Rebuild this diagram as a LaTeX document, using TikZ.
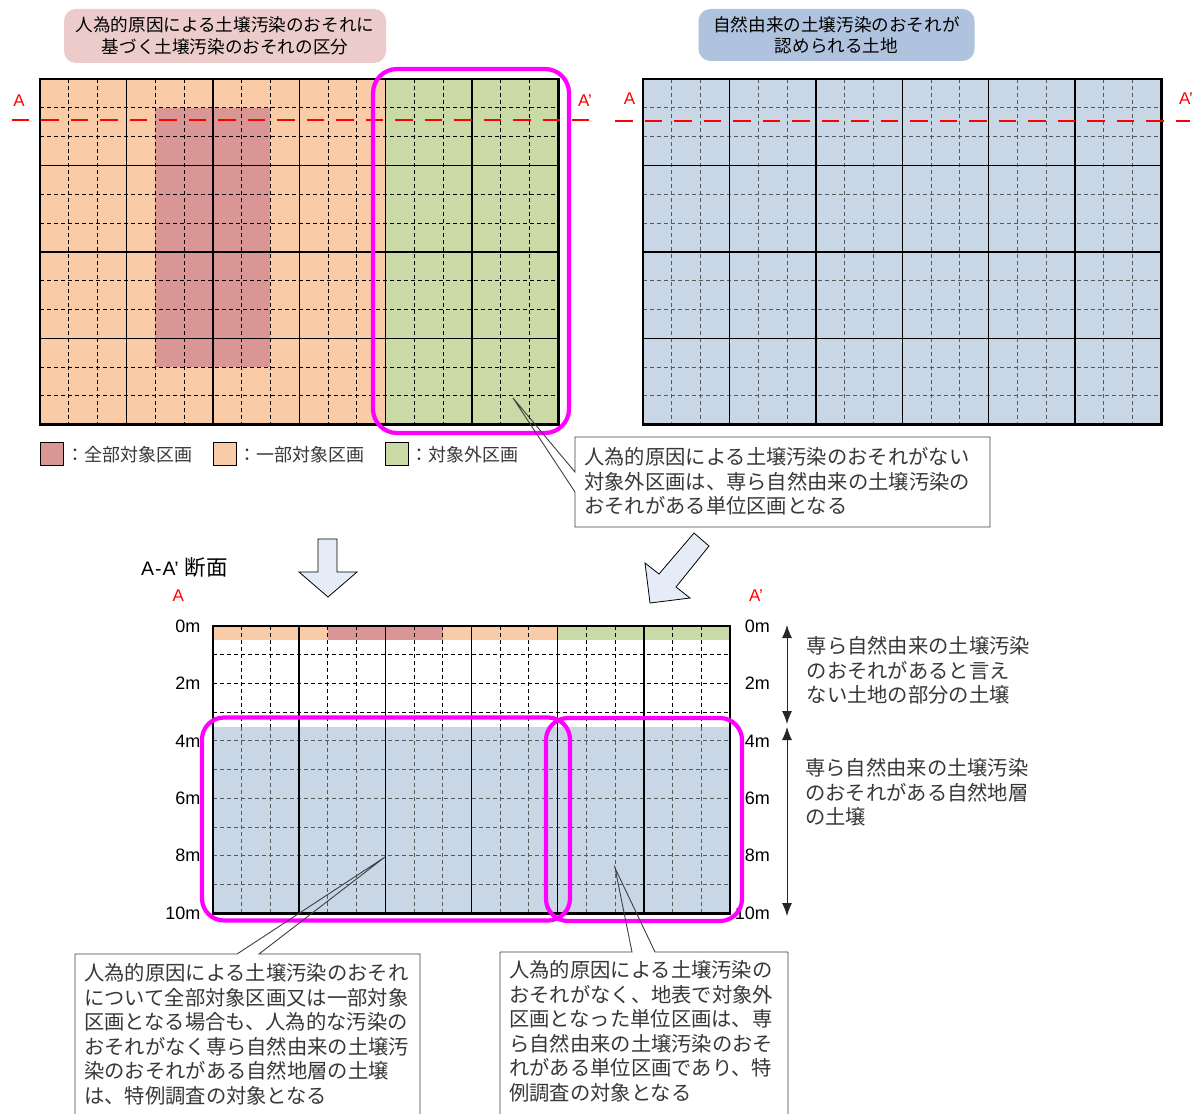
\documentclass[tikz,border=0pt]{standalone}
\usepackage{fontspec}
\setmainfont{Noto Sans CJK JP}
\newfontfamily\jp{Noto Sans CJK JP}
\newfontfamily\lat{Liberation Sans}
\usetikzlibrary{arrows.meta}
\definecolor{orangeF}{HTML}{F9CBA6}
\definecolor{redF}{HTML}{D99694}
\definecolor{greenF}{HTML}{C9DAA6}
\definecolor{blueF}{HTML}{C8D6E6}
\definecolor{titleLF}{HTML}{ECCBCB}
\definecolor{titleRF}{HTML}{B0C3DE}
\definecolor{arrowF}{HTML}{E6ECF7}
\definecolor{magC}{HTML}{FF00FF}
\definecolor{redC}{HTML}{FF0000}
\begin{document}
\begin{tikzpicture}[x=1pt,y=-1pt,
  dgrid/.style={line width=0.9pt, dash pattern=on 4pt off 3pt},
  dgridb/.style={line width=0.9pt, dash pattern=on 4pt off 3pt, draw=black!65},
  mgrid/.style={line width=1.4pt},
  gborder/.style={line width=2.6pt},
  magbox/.style={draw=magC, line width=4.2pt, rounded corners=24pt},
  redcut/.style={draw=redC, line width=2.8pt, dash pattern=on 17.5pt off 12pt},
  callframe/.style={draw=black!75, line width=0.9pt},
  calltext/.style={font=\jp\fontsize{20.3}{24.5}\selectfont, text=black!78, inner sep=0pt, align=left, anchor=north west},
  titlebox/.style={rounded corners=12pt, font=\jp\fontsize{17.6}{21.5}\selectfont, align=center, inner sep=0pt},
  legsq/.style={draw=black, line width=0.8pt, minimum width=23pt, minimum height=23pt, inner sep=0pt},
  legtext/.style={font=\jp\fontsize{18}{20}\selectfont, text=black!78, anchor=west, inner sep=0pt},
  deplab/.style={font=\lat\fontsize{18}{20}\selectfont, inner sep=0pt},
  redlab/.style={font=\lat\fontsize{17}{20}\selectfont, text=redC, inner sep=0pt},
  blockarrow/.style={fill=arrowF, draw=black, line width=0.8pt, line join=miter},
  dimarrow/.style={draw=black!85, line width=1pt, {Latex[length=13pt,width=10pt]}-{Latex[length=13pt,width=10pt]}}
]
\useasboundingbox (0,0) rectangle (1198,1113);
\fill[white] (0,0) rectangle (1198,1113);

% ---------- titles ----------
\node[titlebox, fill=titleLF, minimum width=322pt, minimum height=54pt] (titleL) at (225,36)
  {人為的原因による土壌汚染のおそれに\\基づく土壌汚染のおそれの区分};
\node[titlebox, fill=titleRF, minimum width=276pt, minimum height=52pt] (titleR) at (836.5,35)
  {自然由来の土壌汚染のおそれが\\認められる土地};

% ---------- top-left grid ----------
\fill[orangeF] (40,79) rectangle (558.4,424.6);
\fill[redF] (40+4*28.8,79+28.8) rectangle (40+8*28.8,79+10*28.8);
\fill[greenF] (40+12*28.8,79) rectangle (558.4,424.6);
\foreach \i in {1,...,17} {\draw[dgrid] (40+\i*28.8,79) -- ++(0,345.6);}
\foreach \j in {1,...,11} {\draw[dgrid] (40,79+\j*28.8) -- ++(518.4,0);}
\foreach \i in {3,6,...,15} {\draw[mgrid] (40+\i*28.8,79) -- ++(0,345.6);}
\foreach \j in {3,6,9} {\draw[mgrid] (40,79+\j*28.8) -- ++(518.4,0);}
\draw[gborder] (40,79) rectangle (558.4,424.6);
\draw[redcut] (11.5,120) -- (589,120);
\draw[magbox] (373,69) rectangle (569,433);
\node[redlab] (aL1) at (19,101) {A};
\node[redlab] (aL2) at (585,101) {A’};

% ---------- top-right grid ----------
\fill[blueF] (643,79) rectangle (1161.4,424.6);
\foreach \i in {1,...,17} {\draw[dgridb] (643+\i*28.8,79) -- ++(0,345.6);}
\foreach \j in {1,...,11} {\draw[dgridb] (643,79+\j*28.8) -- ++(518.4,0);}
\foreach \i in {3,6,...,15} {\draw[mgrid] (643+\i*28.8,79) -- ++(0,345.6);}
\foreach \j in {3,6,9} {\draw[mgrid] (643,79+\j*28.8) -- ++(518.4,0);}
\draw[gborder] (643,79) rectangle (1161.4,424.6);
\draw[redcut] (615,121) -- (1190,121);
\node[redlab] (aR1) at (629.5,99) {A};
\node[redlab] (aR2) at (1186,99) {A’};

% ---------- legend ----------
\node[legsq, fill=redF, anchor=north west] (lg1) at (40,442) {};
\node[legtext] (lt1) at (66,454.5) {：全部対象区画};
\node[legsq, fill=orangeF, anchor=north west] (lg2) at (213,442) {};
\node[legtext] (lt2) at (238,454.5) {：一部対象区画};
\node[legsq, fill=greenF, anchor=north west] (lg3) at (385,442) {};
\node[legtext] (lt3) at (410,454.5) {：対象外区画};

% ---------- callout 1 ----------
\coordinate (tip1) at (513,398);
\fill[white] (575,437) rectangle (990,527);
\draw[callframe] (tip1) -- (575,472) -- (575,437) -- (990,437) -- (990,527) -- (575,527) -- (575,492) -- cycle;
\node[calltext] (ct1) at (584,447.5)
  {人為的原因による土壌汚染のおそれがない\\対象外区画は、専ら自然由来の土壌汚染の\\おそれがある単位区画となる};

% ---------- block arrows ----------
\draw[blockarrow] (318,539) -- (337,539) -- (337,572) -- (357,572) -- (328,597) -- (299,572) -- (318,572) -- cycle;
\draw[blockarrow] (694,533) -- (709,546) -- (676,587) -- (690,598) -- (650,603) -- (645,563) -- (659,574) -- cycle;

% ---------- cross section ----------
\node[inner sep=0pt, anchor=west] (sec) at (141,567)
  {{\lat\fontsize{19.5}{22}\selectfont A\kern1pt{-}\kern1ptA’}\hspace{6pt}{\jp\fontsize{21.5}{24}\selectfont 断面}};
\node[redlab] (aS1) at (178.3,596) {A};
\node[redlab] (aS2) at (756,596) {A’};

\fill[orangeF] (213,626) rectangle (213+4*28.72,640.36);
\fill[redF] (213+4*28.72,626) rectangle (213+8*28.72,640.36);
\fill[orangeF] (213+8*28.72,626) rectangle (213+12*28.72,640.36);
\fill[greenF] (213+12*28.72,626) rectangle (730,640.36);
\fill[blueF] (213,726.52) rectangle (730,913.2);
\foreach \i in {1,...,17} {
  \draw[dgrid] (213+\i*28.72,626) -- (213+\i*28.72,726.52);
  \draw[dgridb] (213+\i*28.72,726.52) -- (213+\i*28.72,913.2);
}
\foreach \j in {1,2,3} {\draw[dgrid] (213,626+\j*28.72) -- ++(517,0);}
\foreach \j in {4,...,9} {\draw[dgridb] (213,626+\j*28.72) -- ++(517,0);}
\foreach \i in {3,6,...,15} {\draw[mgrid] (213+\i*28.72,626) -- (213+\i*28.72,913.2);}
\draw[gborder] (213,626) rectangle (730,913.2);

\foreach \m/\k in {0/0,2/2,4/4,6/6,8/8,10/10} {
  \node[deplab, anchor=east] (dl\m) at (200.5,626+\k*28.72) {\m m};
  \node[deplab, anchor=east] (dr\m) at (770,626+\k*28.72) {\m m};
}

\draw[magbox, rounded corners=22pt] (202,717.5) rectangle (570,920.5);
\draw[magbox, rounded corners=22pt] (546,718) rectangle (742,921);

% depth arrows
\coordinate (d0) at (787,625);
\coordinate (d1) at (787,724);
\coordinate (d2) at (787,727);
\coordinate (d3) at (787,916);
\draw[dimarrow] (d0) -- (d1);
\draw[dimarrow] (d2) -- (d3);

\node[calltext] (rt1) at (806.5,636.5)
  {専ら自然由来の土壌汚染\\のおそれがあると言え\\ない土地の部分の土壌};
\node[calltext] (rt2) at (805,758.5)
  {専ら自然由来の土壌汚染\\のおそれがある自然地層\\の土壌};

% ---------- bottom callouts ----------
\coordinate (tip2) at (385,857);
\fill[white] (75,954) rectangle (420,1120);
\draw[callframe] (75,1120) -- (75,954) -- (237,954) -- (tip2) -- (259,954) -- (420,954) -- (420,1120);
\node[calltext] (ct2) at (84,963.5)
  {人為的原因による土壌汚染のおそれ\\について全部対象区画又は一部対象\\区画となる場合も、人為的な汚染の\\おそれがなく専ら自然由来の土壌汚\\染のおそれがある自然地層の土壌\\は、特例調査の対象となる};

\coordinate (tip3) at (615,868);
\fill[white] (500,952) rectangle (788,1120);
\draw[callframe] (500,1120) -- (500,952) -- (632,952) -- (tip3) -- (655,952) -- (788,952) -- (788,1120);
\node[calltext] (ct3) at (509,960.5)
  {人為的原因による土壌汚染の\\おそれがなく、地表で対象外\\区画となった単位区画は、専\\ら自然由来の土壌汚染のおそ\\れがある単位区画であり、特\\例調査の対象となる};
\end{tikzpicture}
\end{document}
